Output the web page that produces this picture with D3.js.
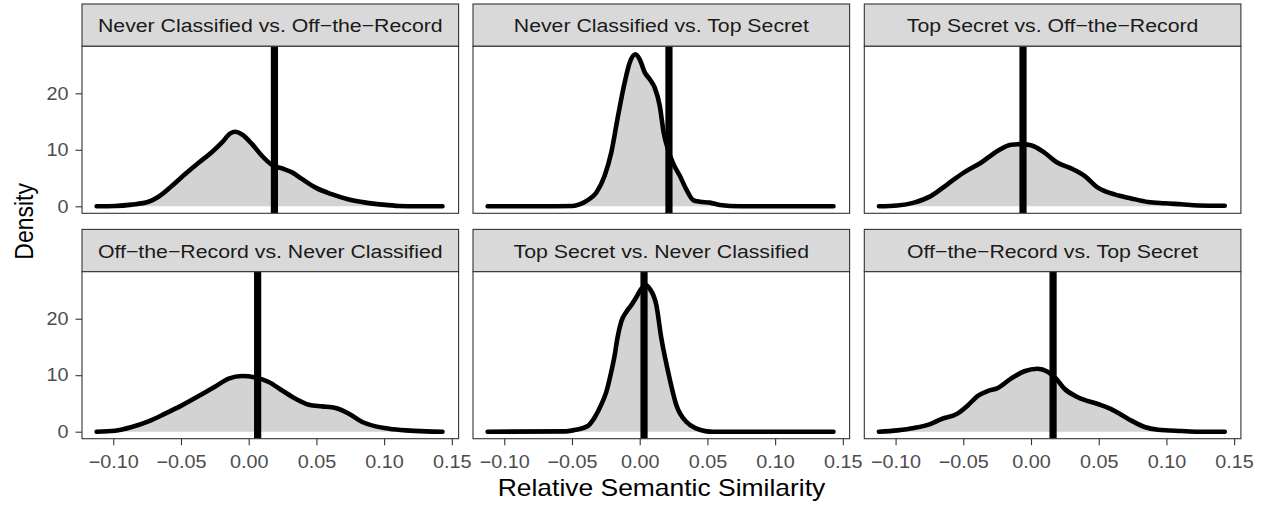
<!DOCTYPE html>
<html>
<head>
<meta charset="utf-8">
<script src="https://cdn.jsdelivr.net/npm/d3@7"></script>
<style>
  html, body { margin: 0; padding: 0; background: #fff; }
  svg { display: block; }
  text { font-family: "Liberation Sans", Arial, Helvetica, sans-serif; }
</style>
</head>
<body>
<div id="chart"></div>
<script>
// ---------------- data ----------------
const panelTitles = [
  "Never Classified vs. Off\u2212the\u2212Record",
  "Never Classified vs. Top Secret",
  "Top Secret vs. Off\u2212the\u2212Record",
  "Off\u2212the\u2212Record vs. Never Classified",
  "Top Secret vs. Never Classified",
  "Off\u2212the\u2212Record vs. Top Secret"
];

// observed values (vertical lines)
const observed = [0.0190, 0.0216, -0.0059, 0.0066, 0.0032, 0.0163];

// density curves: x positions and density values per panel
const x1 = [-0.1123, -0.0987, -0.0864, -0.0740, -0.0666, -0.0568, -0.0469, -0.0370, -0.0271, -0.0197, -0.0136, -0.0099, -0.0049, 0.0025, 0.0099, 0.0173, 0.0247, 0.0321, 0.0395, 0.0494, 0.0617, 0.0740, 0.0864, 0.0987, 0.1111, 0.1234, 0.1431];
const d1 = [0, 0.06, 0.3, 0.8, 1.7, 3.6, 5.7, 7.7, 9.6, 11.3, 12.9, 13.2, 12.7, 11.0, 8.9, 7.3, 6.7, 6.0, 4.8, 3.3, 2.1, 1.2, 0.65, 0.3, 0.06, 0, 0];

const x2 = [-0.1123, -0.0740, -0.0494, -0.0444, -0.0383, -0.0321, -0.0259, -0.0210, -0.0160, -0.0111, -0.0074, -0.0032, 0, 0.0037, 0.0074, 0.0111, 0.0148, 0.0178, 0.0210, 0.0247, 0.0296, 0.0346, 0.0395, 0.0444, 0.0518, 0.0592, 0.0740, 0.1431];
const d2 = [0, 0, 0.06, 0.35, 1.1, 2.4, 5.4, 9.5, 16.0, 21.9, 25.4, 26.9, 26.0, 23.7, 22.5, 21.0, 17.8, 12.9, 10.0, 7.6, 5.4, 2.9, 1.1, 0.8, 0.65, 0.24, 0, 0];

const x3 = [-0.1123, -0.0987, -0.0864, -0.0740, -0.0617, -0.0494, -0.0370, -0.0247, -0.0148, -0.0074, 0, 0.0099, 0.0197, 0.0296, 0.0395, 0.0494, 0.0617, 0.0740, 0.0864, 0.0987, 0.1111, 0.1234, 0.1431];
const d3v = [0, 0.15, 0.65, 1.8, 3.9, 6.0, 7.7, 9.8, 10.9, 11.0, 10.8, 9.5, 7.7, 6.7, 5.4, 3.3, 2.1, 1.4, 0.77, 0.53, 0.35, 0.15, 0.1];

const x4 = [-0.1123, -0.0987, -0.0864, -0.0740, -0.0617, -0.0494, -0.0370, -0.0247, -0.0148, -0.0049, 0.0049, 0.0148, 0.0247, 0.0346, 0.0444, 0.0543, 0.0642, 0.0740, 0.0839, 0.0938, 0.1037, 0.1160, 0.1308, 0.1431];
const d4 = [0, 0.18, 0.83, 1.83, 3.2, 4.66, 6.3, 8.0, 9.4, 9.85, 9.6, 8.8, 7.3, 5.84, 4.78, 4.48, 4.19, 3.19, 1.71, 0.94, 0.53, 0.24, 0.06, 0];

const x5 = [-0.1123, -0.0543, -0.0469, -0.0383, -0.0333, -0.0284, -0.0247, -0.0210, -0.0185, -0.0165, -0.0136, -0.0099, -0.0062, -0.0025, 0.0012, 0.0044, 0.0074, 0.0123, 0.0160, 0.0210, 0.0271, 0.0346, 0.0420, 0.0494, 0.0543, 0.1431];
const d5 = [0, 0.06, 0.35, 1.0, 2.5, 4.8, 7.0, 10.6, 13.5, 16.5, 19.5, 21.2, 22.4, 23.8, 25.3, 25.9, 25.3, 22.4, 16.5, 10.6, 4.7, 1.7, 0.53, 0.06, 0, 0];

const x6 = [-0.1123, -0.0987, -0.0864, -0.0740, -0.0666, -0.0543, -0.0469, -0.0395, -0.0321, -0.0247, -0.0148, -0.0049, 0.0049, 0.0123, 0.0185, 0.0247, 0.0346, 0.0494, 0.0592, 0.0716, 0.0839, 0.0938, 0.1111, 0.1234, 0.1431];
const d6 = [0, 0.24, 0.65, 1.4, 2.2, 3.2, 4.6, 6.3, 7.2, 7.7, 9.4, 10.7, 11.15, 10.6, 9.4, 7.6, 6.1, 4.9, 4.0, 2.3, 0.83, 0.35, 0.12, 0, 0];

const curveX = [x1, x2, x3, x4, x5, x6];
const curveD = [d1, d2, d3v, d4, d5, d6];

const xTickValues = [-0.10, -0.05, 0.00, 0.05, 0.10, 0.15];
const xTickLabels = ["\u22120.10", "\u22120.05", "0.00", "0.05", "0.10", "0.15"];
const yTickValues = [0, 10, 20];
const yTickLabels = ["0", "10", "20"];

const xTitle = "Relative Semantic Similarity";
const yTitle = "Density";

// ---------------- layout ----------------
const W = 1266, H = 506;
const colLeft = [82, 473, 864.3];
const panelW = 376.6;
const stripTop = [4, 229.4];
const stripH = 42.3;
const panelH = 167;

const tickFont = 18, tickSX = 1.1;
const stripFont = 19, stripSX = 1.12;
const titleFont = 23, titleSX = 1.15;

const x = d3.scaleLinear().domain([-0.1231, 0.1550]).range([0, panelW]);
const y = d3.scaleLinear().domain([-1.24, 28.32]).range([panelH, 0]);

const svg = d3.select("#chart").append("svg")
  .attr("width", W).attr("height", H)
  .attr("viewBox", `0 0 ${W} ${H}`);

svg.append("rect").attr("width", W).attr("height", H).attr("fill", "#fff");

const area = d3.area().x(d => x(d[0])).y0(y(0)).y1(d => y(d[1])).curve(d3.curveMonotoneX);
const line = d3.line().x(d => x(d[0])).y(d => y(d[1])).curve(d3.curveMonotoneX);

panelTitles.forEach((title, i) => {
  const col = i % 3, row = Math.floor(i / 3);
  const left = colLeft[col];
  const top = stripTop[row] + stripH;
  const pts = curveX[i].map((v, k) => [v, curveD[i][k]]);

  // strip
  const sg = svg.append("g").attr("transform", `translate(${left},${stripTop[row]})`);
  sg.append("rect").attr("width", panelW).attr("height", stripH)
    .attr("fill", "#D9D9D9").attr("stroke", "#333333").attr("stroke-width", 1.1);
  sg.append("text")
    .attr("transform", `translate(${panelW / 2},${28.4}) scale(${stripSX},1)`)
    .attr("text-anchor", "middle")
    .attr("font-size", stripFont)
    .attr("fill", "#1A1A1A")
    .text(title);

  // panel
  const g = svg.append("g").attr("transform", `translate(${left},${top})`);
  const clipId = "clip" + i;
  g.append("clipPath").attr("id", clipId).append("rect")
    .attr("width", panelW).attr("height", panelH);
  g.append("rect").attr("width", panelW).attr("height", panelH).attr("fill", "#fff");

  const inner = g.append("g").attr("clip-path", `url(#${clipId})`);
  inner.append("path").datum(pts).attr("d", area).attr("fill", "#D3D3D3");
  inner.append("path").datum(pts).attr("d", line)
    .attr("fill", "none").attr("stroke", "#000").attr("stroke-width", 4.6)
    .attr("stroke-linejoin", "round").attr("stroke-linecap", "round");
  inner.append("line")
    .attr("x1", x(observed[i])).attr("x2", x(observed[i]))
    .attr("y1", 0).attr("y2", panelH)
    .attr("stroke", "#000").attr("stroke-width", 7.2);

  g.append("rect").attr("width", panelW).attr("height", panelH)
    .attr("fill", "none").attr("stroke", "#333333").attr("stroke-width", 1.1);

  // y axis (left column)
  if (col === 0) {
    const ya = g.append("g").call(
      d3.axisLeft(y).tickValues(yTickValues).tickSize(6.5)
        .tickFormat((d, k) => yTickLabels[k]));
    ya.select(".domain").remove();
    ya.selectAll(".tick line").attr("stroke", "#333333").attr("stroke-width", 1.1);
    ya.selectAll(".tick text")
      .attr("x", 0)
      .attr("transform", `translate(-13.5,0) scale(${tickSX},1)`)
      .attr("font-size", tickFont)
      .attr("font-family", "Liberation Sans, Arial, sans-serif")
      .attr("fill", "#4D4D4D");
  }
  // x axis (bottom row)
  if (row === 1) {
    const xa = g.append("g").attr("transform", `translate(0,${panelH})`).call(
      d3.axisBottom(x).tickValues(xTickValues).tickSize(6.5)
        .tickFormat((d, k) => xTickLabels[k]));
    xa.select(".domain").remove();
    xa.selectAll(".tick line").attr("stroke", "#333333").attr("stroke-width", 1.1);
    xa.selectAll(".tick text")
      .attr("y", 0).attr("dy", null)
      .attr("transform", `translate(0,29) scale(${tickSX},1)`)
      .attr("font-size", tickFont)
      .attr("font-family", "Liberation Sans, Arial, sans-serif")
      .attr("fill", "#4D4D4D");
  }
});

// axis titles
const xMid = (colLeft[0] + colLeft[2] + panelW) / 2;
svg.append("text")
  .attr("transform", `translate(${xMid},496) scale(${titleSX},1)`)
  .attr("text-anchor", "middle")
  .attr("font-size", titleFont)
  .attr("fill", "#000")
  .text(xTitle);

const yMid = (stripTop[0] + stripTop[1] + stripH + panelH) / 2;
svg.append("text")
  .attr("transform", `translate(33,${yMid}) scale(${titleSX},1) rotate(-90)`)
  .attr("text-anchor", "middle")
  .attr("font-size", titleFont)
  .attr("fill", "#000")
  .text(yTitle);
</script>
</body>
</html>
